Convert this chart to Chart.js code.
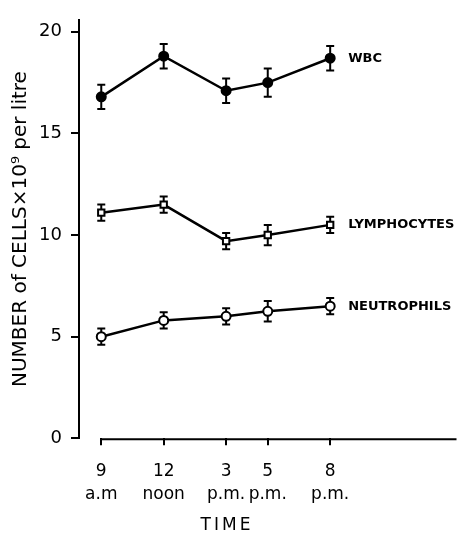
<!DOCTYPE html>
<html>
<head>
<meta charset="utf-8">
<script src="https://cdn.jsdelivr.net/npm/chart.js@4"></script>
<style>
  html, body { margin: 0; padding: 0; background: #fff; }
  #wrap { width: 463px; height: 538px; }
</style>
</head>
<body>
<div id="wrap"><canvas id="chart" width="463" height="538"></canvas></div>
<script>
// hours of the day (24h clock) at which samples were taken
const hours = [9, 12, 15, 17, 20];
const hourLabels = ['9', '12', '3', '5', '8'];
const periodLabels = ['a.m', 'noon', 'p.m.', 'p.m.', 'p.m.'];
const yTicks = [0, 5, 10, 15, 20];

const wbc = [16.8, 18.8, 17.1, 17.5, 18.7];
const wbcErr = [0.6, 0.6, 0.6, 0.7, 0.6];
const lymphocytes = [11.1, 11.5, 9.7, 10.0, 10.5];
const lymphocytesErr = [0.4, 0.4, 0.4, 0.5, 0.4];
const neutrophils = [5.0, 5.8, 6.0, 6.25, 6.5];
const neutrophilsErr = [0.4, 0.4, 0.4, 0.5, 0.4];

const FONT = 'DejaVu Sans';

const toPoints = vals => vals.map((v, i) => ({ x: hours[i], y: v }));

const seriesStyle = (label, vals, errs, pointStyle, filled) => ({
    label,
    data: toPoints(vals),
    errors: errs,
    borderColor: '#000',
    borderWidth: 2.5,
    pointStyle,
    pointRadius: 4.5,
    pointBorderWidth: 2,
    pointBackgroundColor: filled ? '#000' : '#fff',
    pointBorderColor: '#000',
    tension: 0,
    fill: false
});

const extras = {
    id: 'extras',
    beforeDatasetsDraw(chart) {
        const { ctx, scales: { x, y } } = chart;
        ctx.save();
        ctx.strokeStyle = '#000';
        ctx.lineWidth = 2;
        chart.data.datasets.forEach(ds => {
            ds.data.forEach((p, i) => {
                const px = x.getPixelForValue(p.x);
                const top = y.getPixelForValue(p.y + ds.errors[i]);
                const bot = y.getPixelForValue(p.y - ds.errors[i]);
                ctx.beginPath();
                ctx.moveTo(px, top); ctx.lineTo(px, bot);
                ctx.moveTo(px - 4, top); ctx.lineTo(px + 4, top);
                ctx.moveTo(px - 4, bot); ctx.lineTo(px + 4, bot);
                ctx.stroke();
            });
        });
        // x axis line starts at the first sample, not at the y axis
        ctx.beginPath();
        ctx.moveTo(x.getPixelForValue(hours[0]) - 1, chart.chartArea.bottom + 1);
        ctx.lineTo(chart.chartArea.right, chart.chartArea.bottom + 1);
        ctx.stroke();
        ctx.restore();
    },
    afterDatasetsDraw(chart) {
        const { ctx, scales: { x, y } } = chart;
        ctx.save();
        ctx.fillStyle = '#000';
        ctx.font = 'bold 13px "' + FONT + '"';
        ctx.textBaseline = 'middle';
        ctx.textAlign = 'left';
        chart.data.datasets.forEach(ds => {
            const last = ds.data[ds.data.length - 1];
            ctx.fillText(ds.label, x.getPixelForValue(last.x) + 18, y.getPixelForValue(last.y));
        });
        ctx.font = '17px "' + FONT + '"';
        ctx.textAlign = 'center';
        ctx.letterSpacing = '3px';
        ctx.fillText('TIME', 227, 526);
        ctx.restore();
    }
};

new Chart(document.getElementById('chart'), {
    type: 'line',
    data: {
        datasets: [
            seriesStyle('WBC', wbc, wbcErr, 'circle', true),
            seriesStyle('LYMPHOCYTES', lymphocytes, lymphocytesErr, 'rect', false),
            seriesStyle('NEUTROPHILS', neutrophils, neutrophilsErr, 'circle', false)
        ]
    },
    options: {
        responsive: false,
        animation: false,
        events: [],
        layout: { padding: { top: 6, right: 3, bottom: 0, left: 0 } },
        plugins: { legend: { display: false }, tooltip: { enabled: false } },
        scales: {
            x: {
                type: 'linear',
                min: 7.93,
                max: 26.07,
                afterBuildTicks: s => { s.ticks = hours.map(v => ({ value: v })); },
                afterFit: s => { s.height = 99.7; },
                grid: { drawOnChartArea: false, drawTicks: true, tickLength: 7, color: '#000', lineWidth: 2 },
                border: { display: false },
                ticks: {
                    color: '#000',
                    padding: 14,
                    maxRotation: 0,
                    autoSkip: false,
                    font: { family: FONT, size: 17, lineHeight: 1.4 },
                    callback: (v, i) => [hourLabels[i], periodLabels[i]]
                }
            },
            y: {
                min: 0,
                max: 20.59,
                afterBuildTicks: s => { s.ticks = yTicks.map(v => ({ value: v })); },
                afterFit: s => { s.width = 79; },
                grid: { drawOnChartArea: false, drawTicks: true, tickLength: 8, color: '#000', lineWidth: 2 },
                border: { display: true, color: '#000', width: 2 },
                ticks: {
                    color: '#000',
                    padding: 9,
                    font: { family: FONT, size: 18 }
                },
                title: {
                    display: true,
                    text: 'NUMBER of CELLS×10⁹ per litre',
                    color: '#000',
                    padding: { top: 9, bottom: 0 },
                    font: { family: FONT, size: 20 }
                }
            }
        }
    },
    plugins: [extras]
});
</script>
</body>
</html>
